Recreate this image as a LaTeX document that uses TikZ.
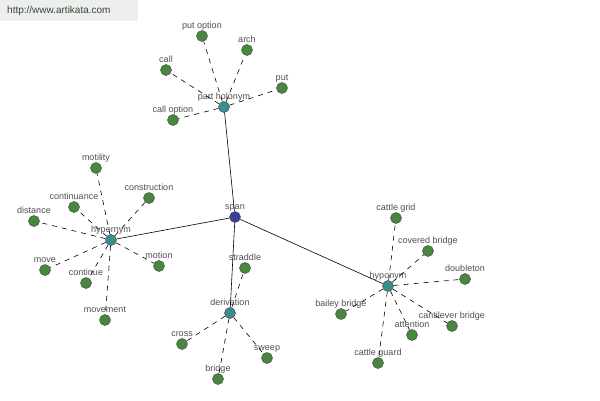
\documentclass[tikz,border=0pt]{standalone}
\usepackage{fontspec}
\setmainfont{Liberation Sans}
\definecolor{leafc}{RGB}{70,136,60}
\definecolor{hubc}{RGB}{58,142,142}
\definecolor{rootc}{RGB}{62,62,158}
\definecolor{txtc}{RGB}{80,80,80}
\definecolor{wmbg}{RGB}{238,238,238}
\definecolor{wmtxt}{RGB}{50,75,50}
\begin{document}
\begin{tikzpicture}[x=1pt,y=-1pt,
  lbl/.style={font=\fontsize{9}{10}\selectfont, text=txtc, inner sep=0pt, text height=6pt, text depth=2pt, label distance=0pt},
  dot/.style={circle, draw=black!70, line width=0.5pt, minimum size=11pt, inner sep=0pt},
  leaf/.style={dot, fill=leafc},
  hub/.style={dot, fill=hubc},
  root/.style={dot, fill=rootc},
  solidedge/.style={draw=black, line width=0.6pt},
  dashedge/.style={draw=black, line width=0.6pt, dash pattern=on 5pt off 5pt}
]
\useasboundingbox (0,0) rectangle (600,400);
\fill[white] (0,0) rectangle (600,400);
\node[fill=wmbg, minimum width=138pt, minimum height=21pt, anchor=north west, inner sep=0pt] (wm) at (0,0) {};
\node[font=\fontsize{10}{11}\selectfont, text=wmtxt, anchor=west, inner sep=0pt] (wmt) at (7,11) {http://www.artikata.com};

% hubs
\node[root, label={[lbl]above:span}] (span) at (235,217) {};
\node[hub, label={[lbl]above:part holonym}] (ph) at (224,107) {};
\node[hub, label={[lbl]above:hypernym}] (hyper) at (111,240) {};
\node[hub, label={[lbl]above:derivation}] (deriv) at (230,313) {};
\node[hub, label={[lbl]above:hyponym}] (hypo) at (388,286) {};

% part holonym leaves
\node[leaf, label={[lbl]above:put option}] (putoption) at (202,36) {};
\node[leaf, label={[lbl]above:arch}] (arch) at (247,50) {};
\node[leaf, label={[lbl]above:call}] (call) at (166,70) {};
\node[leaf, label={[lbl]above:put}] (put) at (282,88) {};
\node[leaf, label={[lbl]above:call option}] (calloption) at (173,120) {};

% hypernym leaves
\node[leaf, label={[lbl]above:motility}] (motility) at (96,168) {};
\node[leaf, label={[lbl]above:construction}] (construction) at (149,198) {};
\node[leaf, label={[lbl]above:continuance}] (continuance) at (74,207) {};
\node[leaf, label={[lbl]above:distance}] (distance) at (34,221) {};
\node[leaf, label={[lbl]above:motion}] (motion) at (159,266) {};
\node[leaf, label={[lbl]above:move}] (move) at (45,270) {};
\node[leaf, label={[lbl]above:continue}] (continue) at (86,283) {};
\node[leaf, label={[lbl]above:movement}] (movement) at (105,320) {};

% derivation leaves
\node[leaf, label={[lbl]above:straddle}] (straddle) at (245,268) {};
\node[leaf, label={[lbl]above:cross}] (cross) at (182,344) {};
\node[leaf, label={[lbl]above:sweep}] (sweep) at (267,358) {};
\node[leaf, label={[lbl]above:bridge}] (bridge) at (218,379) {};

% hyponym leaves
\node[leaf, label={[lbl]above:cattle grid}] (cattlegrid) at (396,218) {};
\node[leaf, label={[lbl]above:covered bridge}] (covered) at (428,251) {};
\node[leaf, label={[lbl]above:doubleton}] (doubleton) at (465,279) {};
\node[leaf, label={[lbl]above:bailey bridge}] (bailey) at (341,314) {};
\node[leaf, label={[lbl]above:cantilever bridge}] (cantilever) at (452,326) {};
\node[leaf, label={[lbl]above:attention}] (attention) at (412,335) {};
\node[leaf, label={[lbl]above:cattle guard}] (cattleguard) at (378,363) {};

% edges
\path[solidedge] (span) -- (ph) (span) -- (hyper) (span) -- (deriv) (span) -- (hypo);
\foreach \l in {putoption,arch,call,put,calloption}
  \path[dashedge] (ph) -- (\l);
\foreach \l in {motility,construction,continuance,distance,motion,move,continue,movement}
  \path[dashedge] (hyper) -- (\l);
\foreach \l in {straddle,cross,sweep,bridge}
  \path[dashedge] (deriv) -- (\l);
\foreach \l in {cattlegrid,covered,doubleton,bailey,cantilever,attention,cattleguard}
  \path[dashedge] (hypo) -- (\l);
\end{tikzpicture}
\end{document}
